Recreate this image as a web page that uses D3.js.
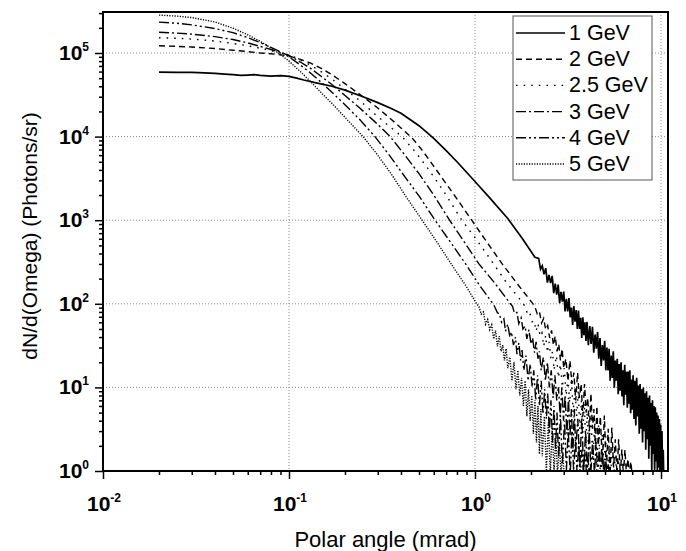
<!DOCTYPE html>
<html lang="en">
<head>
<meta charset="UTF-8">
<title>Photon angular distribution</title>
<script src="https://d3js.org/d3.v7.min.js"></script>
<style>
  body { margin: 0; background: #fff; }
  svg { display: block; font-family: "Liberation Sans", Arial, sans-serif; }
  .grid line { stroke: #8a8a8a; stroke-width: 1; stroke-dasharray: 1,2; }
  .axis path { display: none; }
  .axis line { stroke: #000; stroke-width: 1.5; }
  .tick-label { font-weight: bold; font-size: 21px; fill: #000; }
  .legend text { font-size: 21.5px; fill: #000; }
</style>
</head>
<body>
<svg id="chart" width="686" height="551"></svg>
<script>
// beam energies (legend)
const energies = ["1 GeV", "2 GeV", "2.5 GeV", "3 GeV", "4 GeV", "5 GeV"];

// [polar angle (mrad), dN/dOmega (photons/sr)]
const gev1 = [[0.02,5.9e4],[0.025,5.88e4],[0.03,5.85e4],[0.035,5.8e4],[0.04,5.7e4],[0.045,5.6e4],[0.05,5.5e4],[0.055,5.4e4],[0.06,5.45e4],[0.065,5.5e4],[0.07,5.4e4],[0.08,5.3e4],[0.09,5.35e4],[0.1,5.25e4],[0.11,5.0e4],[0.12,4.75e4],[0.14,4.4e4],[0.17,4.0e4],[0.2,3.6e4],[0.25,3.0e4],[0.3,2.55e4],[0.35,2.2e4],[0.4,1.9e4],[0.5,1.35e4],[0.6,9.5e3],[0.7,6.8e3],[0.8,5.0e3],[1.0,2.9e3],[1.2,1.85e3],[1.5,1.05e3],[1.8,600],[2.1,360],
  [2.2,350],[2.25,260],[2.3,285],[2.35,225],[2.4,267],[2.45,179],[2.5,221],[2.55,177],[2.6,216],[2.65,134],[2.7,174],[2.75,129],[2.8,170],[2.85,102],[2.9,139],[2.95,106],[3.0,140],[3.05,81],[3.1,115],[3.15,81],[3.2,117],[3.25,69],[3.3,90],[3.35,56],[3.4,94],[3.45,61],[3.5,84],[3.55,50],[3.6,83],[3.65,50],[3.7,68],[3.75,39],[3.8,69],[3.85,42],[3.9,60],[3.95,36],[4.0,61],
  [4.07,32],[4.14,54],[4.21,33],[4.28,53],[4.35,26],[4.42,43],[4.49,29],[4.56,46],[4.63,22],[4.7,39],[4.77,18],[4.84,32],[4.91,21],[4.98,36],[5.05,16],[5.12,30],[5.19,16],[5.26,29],[5.33,12],[5.4,24],[5.47,13],[5.54,27],[5.61,9.9],[5.68,21],[5.75,12],[5.82,22],[5.89,8.3],[5.96,19],[6.03,9.1],[6.1,20],[6.17,7.8],[6.24,16],[6.31,6.1],[6.38,18.6],[6.45,8.2],[6.52,15.4],[6.59,5.7],[6.66,15.5],[6.73,6.4],[6.8,16],[6.87,4.9],[6.94,12.4],[7.0,5.4],
  [7.08,14],[7.16,4.2],[7.24,12],[7.32,3.5],[7.4,13],[7.48,4.5],[7.56,10.5],[7.64,2.8],[7.72,11],[7.8,3.2],[7.88,9.5],[7.96,2.2],[8.04,10],[8.12,3.0],[8.2,8.5],[8.28,1.8],[8.36,9],[8.44,2.4],[8.52,7.5],[8.6,1.4],[8.68,8],[8.76,2.0],[8.84,6.5],[8.92,1.0],[9.0,7],[9.08,1.6],[9.16,6],[9.24,0.9],[9.32,5.8],[9.4,1.3],[9.48,5],[9.56,0.9],[9.64,4.6],[9.72,1.1],[9.8,4.2],[9.88,0.9],[9.96,3.6],[10.04,0.9],[10.12,3],[10.2,0.9],[10.28,1.8],[10.34,0.9]];

const gev2 = [[0.02,1.22e5],[0.025,1.2e5],[0.03,1.18e5],[0.04,1.13e5],[0.05,1.08e5],[0.06,1.04e5],[0.07,1.0e5],[0.08,9.8e4],[0.09,9.5e4],[0.1,9.2e4],[0.115,8.4e4],[0.13,7.6e4],[0.15,6.5e4],[0.17,5.5e4],[0.2,4.3e4],[0.25,3.0e4],[0.3,2.2e4],[0.35,1.65e4],[0.4,1.27e4],[0.46,9.6e3],[0.53,6.5e3],[0.62,4.0e3],[0.72,2.5e3],[0.83,1.6e3],[0.96,1.0e3],[1.15,560],[1.4,300],[1.7,170],[2.05,100],
  [2.1,92],[2.16,76],[2.22,81],[2.28,59],[2.34,67],[2.4,49],[2.46,55],[2.52,39],[2.58,48],[2.64,32],[2.7,41],[2.76,27],[2.82,33],[2.88,21],[2.94,29],[3.0,17],[3.08,22],[3.16,12],[3.24,21],[3.32,11],[3.4,15],[3.48,7],[3.56,15],[3.64,7.5],[3.72,11],[3.8,4.5],[3.88,11],[3.96,5],[4.04,7.5],[4.12,3],[4.2,8.5],[4.28,3.2],[4.36,5.5],[4.44,1.8],[4.52,6],[4.6,2],[4.72,4.5],[4.84,1.2],[4.96,4.6],[5.08,1],[5.2,3.2],[5.32,0.9],[5.44,3.3],[5.56,1.1],[5.68,2.4],[5.8,0.9],[5.92,2.4],[6.04,0.9],[6.16,1.8],[6.28,0.9],[6.4,1.8],[6.52,0.9],[6.64,1.4],[6.76,0.9],[6.88,1.3],[7.0,0.9]];

const gev25 = [[0.02,1.52e5],[0.025,1.5e5],[0.03,1.47e5],[0.04,1.39e5],[0.05,1.3e5],[0.06,1.22e5],[0.07,1.14e5],[0.08,1.07e5],[0.09,1.0e5],[0.1,9.5e4],[0.115,8.3e4],[0.13,7.2e4],[0.15,5.9e4],[0.17,4.9e4],[0.2,3.7e4],[0.24,2.7e4],[0.29,1.85e4],[0.35,1.3e4],[0.405,1.0e4],[0.48,6.5e3],[0.57,3.9e3],[0.68,2.2e3],[0.85,1.0e3],[1.0,620],[1.2,350],[1.45,190],[1.82,100],
  [1.87,90],[1.92,74],[1.97,78],[2.03,61],[2.08,63],[2.13,47],[2.18,58],[2.24,41],[2.29,45],[2.34,31],[2.4,42],[2.45,26],[2.5,35],[2.56,22],[2.61,27],[2.66,16],[2.74,24],[2.81,13],[2.88,19],[2.95,10],[3.02,17],[3.09,8],[3.16,13],[3.23,6.5],[3.3,13],[3.37,5],[3.45,9.5],[3.52,4.5],[3.59,9],[3.66,3.2],[3.73,7],[3.8,2.8],[3.87,6.5],[3.94,2],[4.01,5],[4.09,1.5],[4.19,5.2],[4.3,1.3],[4.4,3.8],[4.51,1],[4.62,3.6],[4.72,0.9],[4.83,2.8],[4.94,1.2],[5.04,2.6],[5.15,0.9],[5.26,2],[5.36,0.9],[5.47,2],[5.58,0.9],[5.68,1.5],[5.79,0.9],[5.9,1.4],[6.0,0.9],[6.11,1.2],[6.22,0.9]];

const gev3 = [[0.02,1.77e5],[0.025,1.73e5],[0.03,1.68e5],[0.04,1.57e5],[0.05,1.45e5],[0.06,1.32e5],[0.07,1.2e5],[0.08,1.1e5],[0.09,1.02e5],[0.1,9.3e4],[0.115,7.8e4],[0.13,6.6e4],[0.15,5.2e4],[0.17,4.2e4],[0.2,3.1e4],[0.24,2.2e4],[0.29,1.5e4],[0.35,1.0e4],[0.42,6.0e3],[0.5,3.6e3],[0.6,2.0e3],[0.73,1.0e3],[0.88,540],[1.05,300],[1.27,180],[1.55,100],
  [1.59,94],[1.63,77],[1.68,79],[1.72,58],[1.77,68],[1.81,50],[1.86,54],[1.9,38],[1.95,49],[2.0,33],[2.04,39],[2.09,26],[2.13,35],[2.18,22],[2.22,27],[2.27,16],[2.33,23],[2.39,12],[2.45,20],[2.51,10],[2.57,16],[2.63,7.5],[2.69,14],[2.75,7],[2.81,10],[2.87,4.5],[2.93,10],[2.99,4],[3.05,8],[3.12,2.8],[3.18,7.5],[3.24,2.6],[3.3,5.5],[3.36,1.7],[3.42,5.5],[3.48,1.8],[3.57,4.2],[3.66,1.1],[3.75,4.4],[3.84,1],[3.93,3],[4.02,0.9],[4.11,3.1],[4.2,1],[4.29,2.3],[4.39,0.9],[4.48,2.2],[4.57,0.9],[4.66,1.9],[4.75,0.9],[4.84,1.7],[4.93,0.9],[5.02,1.4],[5.11,0.9],[5.2,1.2],[5.29,0.9]];

const gev4 = [[0.02,2.34e5],[0.025,2.27e5],[0.03,2.17e5],[0.04,1.96e5],[0.05,1.75e5],[0.06,1.53e5],[0.07,1.33e5],[0.08,1.17e5],[0.09,1.03e5],[0.1,9.0e4],[0.115,7.2e4],[0.13,5.8e4],[0.15,4.4e4],[0.17,3.4e4],[0.2,2.4e4],[0.24,1.6e4],[0.29,1.0e4],[0.35,5.8e3],[0.42,3.3e3],[0.5,1.95e3],[0.61,1.0e3],[0.75,520],[0.9,290],[1.05,170],[1.25,100],
  [1.28,91],[1.32,78],[1.35,77],[1.39,60],[1.43,66],[1.46,47],[1.5,57],[1.54,40],[1.57,46],[1.61,32],[1.65,40],[1.68,25],[1.72,34],[1.76,21],[1.79,28],[1.83,16],[1.88,24],[1.93,12],[1.98,19],[2.03,10],[2.07,16],[2.12,7],[2.17,14],[2.22,6],[2.27,12],[2.32,4.8],[2.37,9.5],[2.42,4.2],[2.46,8.5],[2.51,2.8],[2.56,7],[2.61,2.2],[2.66,6],[2.71,1.8],[2.76,5],[2.81,1.5],[2.88,4.6],[2.95,1.2],[3.03,4],[3.1,1],[3.17,3.2],[3.25,0.9],[3.32,3],[3.39,1],[3.47,2.4],[3.54,0.9],[3.61,2.2],[3.68,0.9],[3.76,1.8],[3.83,0.9],[3.9,1.7],[3.98,0.9],[4.05,1.4],[4.12,0.9],[4.2,1.2],[4.27,0.9]];

const gev5 = [[0.02,2.84e5],[0.025,2.76e5],[0.03,2.65e5],[0.04,2.35e5],[0.05,1.98e5],[0.06,1.65e5],[0.07,1.38e5],[0.08,1.15e5],[0.09,9.6e4],[0.1,8.0e4],[0.115,6.0e4],[0.13,4.6e4],[0.15,3.3e4],[0.17,2.5e4],[0.2,1.7e4],[0.25,1.0e4],[0.3,6.0e3],[0.36,3.4e3],[0.43,1.85e3],[0.52,1.0e3],[0.62,560],[0.76,280],[0.9,160],[1.02,100],
  [1.05,93],[1.08,75],[1.11,80],[1.14,57],[1.17,65],[1.2,49],[1.23,56],[1.26,38],[1.29,48],[1.32,31],[1.35,41],[1.38,27],[1.41,32],[1.44,21],[1.47,29],[1.5,17],[1.54,23],[1.58,12],[1.62,20],[1.66,9.5],[1.7,16],[1.74,8],[1.78,13],[1.82,6],[1.86,12],[1.9,4.5],[1.94,9.5],[1.98,4],[2.02,8],[2.06,2.8],[2.1,7],[2.14,2.2],[2.18,6],[2.22,1.6],[2.26,5.5],[2.3,1.5],[2.36,4.5],[2.42,1],[2.48,3.8],[2.54,0.9],[2.6,3.2],[2.66,1],[2.72,2.5],[2.78,0.9],[2.84,2.2],[2.9,0.9],[2.96,1.6],[3.02,0.9]];

const xMajor = [0.01, 0.1, 1, 10];
const yMajor = [1, 10, 100, 1000, 1e4, 1e5];

const series = [gev1, gev2, gev25, gev3, gev4, gev5];
const dashes = ["none", "6,4", "1.6,6", "10,3,2,3", "10,3,2,3,2,3", "1.2,1.4"];

const svg = d3.select("#chart");
svg.append("rect").attr("width", 686).attr("height", 551).attr("fill", "#fff");

const L = 103, R = 668, T = 12, B = 471;
const x = d3.scaleLog().domain([0.01, 10]).range([L, 661]);
const y = d3.scaleLog().domain([1, 1e5]).range([B, 53]);

const xMinor = [], yMinor = [];
[0.01, 0.1, 1].forEach(d => { for (let m = 2; m <= 9; m++) xMinor.push(d * m); });
yMajor.forEach(d => { for (let m = 2; m <= 9; m++) if (y(d * m) >= T) yMinor.push(d * m); });

// dotted grid at the decades
const grid = svg.append("g").attr("class", "grid");
grid.selectAll(".gx").data(xMajor.slice(1)).enter().append("line")
  .attr("x1", d => x(d)).attr("x2", d => x(d)).attr("y1", T).attr("y2", B);
grid.selectAll(".gy").data(yMajor.slice(1)).enter().append("line")
  .attr("x1", L).attr("x2", R).attr("y1", d => y(d)).attr("y2", d => y(d));

// curves
svg.append("clipPath").attr("id", "plot").append("rect")
  .attr("x", L).attr("y", T).attr("width", R - L).attr("height", B - T);
const line = d3.line().x(d => x(d[0])).y(d => y(d[1]));
svg.append("g").attr("clip-path", "url(#plot)")
  .selectAll("path").data(series).enter().append("path")
  .attr("d", line)
  .attr("fill", "none")
  .attr("stroke", "#000")
  .attr("stroke-width", (d, i) => i === 0 ? 1.7 : 1.4)
  .attr("stroke-dasharray", (d, i) => dashes[i]);

// axes (ticks only, frame drawn below)
svg.append("g").attr("class", "axis").attr("transform", `translate(0,${B})`)
  .call(d3.axisBottom(x).tickValues(xMinor).tickSize(4).tickFormat(""));
svg.append("g").attr("class", "axis").attr("transform", `translate(0,${B})`)
  .call(d3.axisBottom(x).tickValues(xMajor).tickSize(8).tickFormat(""));
svg.append("g").attr("class", "axis").attr("transform", `translate(${L},0)`)
  .call(d3.axisLeft(y).tickValues(yMinor).tickSize(4).tickFormat(""));
svg.append("g").attr("class", "axis").attr("transform", `translate(${L},0)`)
  .call(d3.axisLeft(y).tickValues(yMajor).tickSize(8).tickFormat(""));

svg.append("rect").attr("x", L).attr("y", T).attr("width", R - L).attr("height", B - T)
  .attr("fill", "none").attr("stroke", "#000").attr("stroke-width", 2);

// tick labels with superscripts
const xl = svg.selectAll(".xl").data(xMajor).enter().append("text")
  .attr("class", "tick-label").attr("text-anchor", "middle")
  .attr("x", d => x(d) + 1).attr("y", 511);
xl.append("tspan").text("10");
xl.append("tspan").attr("dy", -9).attr("font-size", 12).text(d => Math.round(Math.log10(d)));

const yl = svg.selectAll(".yl").data(yMajor).enter().append("text")
  .attr("class", "tick-label").attr("text-anchor", "end")
  .attr("x", 89).attr("y", d => y(d) + 7);
yl.append("tspan").text("10");
yl.append("tspan").attr("dy", -9).attr("font-size", 12).text(d => Math.round(Math.log10(d)));

// axis titles
svg.append("text").attr("text-anchor", "middle").attr("font-size", 22)
  .attr("x", (L + R) / 2).attr("y", 547).text("Polar angle (mrad)");
svg.append("text").attr("text-anchor", "middle").attr("font-size", 21)
  .attr("transform", `translate(37,236) rotate(-90)`)
  .text("dN/d(Omega) (Photons/sr)");

// legend
const lg = svg.append("g").attr("class", "legend");
lg.append("rect").attr("x", 513).attr("y", 16).attr("width", 139).attr("height", 164)
  .attr("fill", "#fff").attr("stroke", "#555").attr("stroke-width", 1);
const row = lg.selectAll(".row").data(energies).enter().append("g")
  .attr("transform", (d, i) => `translate(0,${33 + i * 26.2})`);
row.append("line").attr("x1", 516).attr("x2", 565).attr("y1", 0).attr("y2", 0)
  .attr("stroke", "#000").attr("stroke-width", (d, i) => i === 0 ? 1.7 : 1.4)
  .attr("stroke-dasharray", (d, i) => dashes[i]);
row.append("text").attr("x", 569).attr("y", 7).text(d => d);
</script>
</body>
</html>
